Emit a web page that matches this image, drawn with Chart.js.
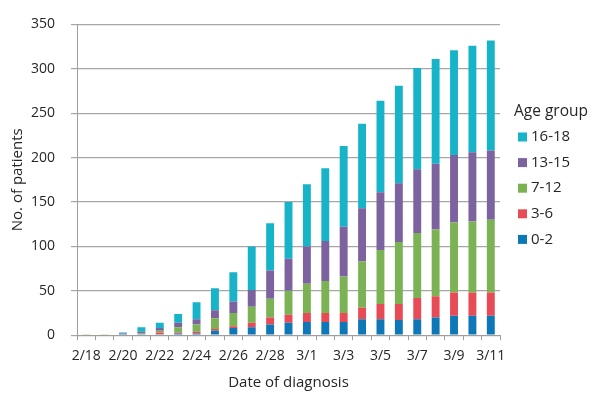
<!DOCTYPE html>
<html>
<head>
<meta charset="utf-8">
<script src="https://cdn.jsdelivr.net/npm/chart.js@4"></script>
<style>
  html, body { margin: 0; padding: 0; background: #ffffff; }
  #wrap { width: 600px; height: 399px; }
</style>
</head>
<body>
<div id="wrap"><canvas id="c" width="600" height="399"></canvas></div>
<script>
const dates = ["2/18","2/19","2/20","2/21","2/22","2/23","2/24","2/25","2/26","2/27","2/28","2/29",
               "3/1","3/2","3/3","3/4","3/5","3/6","3/7","3/8","3/9","3/10","3/11"];
const ageGroups = ["0-2","3-6","7-12","13-15","16-18"];
const age0_2   = [0,0,1,1,1,2,2,5,8,9,12,14,15,15,15,18,18,17,18,20,22,22,22];
const age3_6   = [0,0,0,0,2,1,2,2,2,5,8,9,10,10,10,13,17,18,24,24,26,26,26];
const age7_12  = [1,1,0,1,2,6,8,12,15,18,21,27,33,36,41,52,61,70,73,75,79,80,82];
const age13_15 = [0,0,1,2,3,5,6,9,13,19,32,36,42,45,56,60,65,66,72,74,76,78,78];
const age16_18 = [0,0,1,5,6,10,19,25,33,49,53,64,70,82,91,95,103,110,114,118,118,120,124];
const yTicks = [0,50,100,150,200,250,300,350];
const colors = ["#0d77b7","#e84b55","#7bb354","#7d62a0","#17b4c9"];
const legendTitle = "Age group";

const seriesValues = [age0_2, age3_6, age7_12, age13_15, age16_18];
const datasets = ageGroups.map((g, i) => ({
  label: g,
  data: seriesValues[i],
  backgroundColor: colors[i],
  borderWidth: 0,
  barPercentage: 0.43,
  categoryPercentage: 1.0
}));

const FONT = "'Open Sans', 'DejaVu Sans', sans-serif";
const TEXT = "#262626";
Chart.defaults.font.family = FONT;
Chart.defaults.color = TEXT;

// Legend drawn at the right of the plot, top entry = last dataset (as in the reference)
const sideLegend = {
  id: "sideLegend",
  afterDraw(chart) {
    const ctx = chart.ctx;
    const area = chart.chartArea;
    const x0 = area.right + 14;
    ctx.save();
    ctx.fillStyle = TEXT;
    ctx.textBaseline = "middle";
    ctx.textAlign = "left";
    ctx.font = "15.5px " + FONT;
    ctx.fillText(legendTitle, x0, 111.5);
    ctx.font = "15px " + FONT;
    const ds = chart.data.datasets;
    for (let k = 0; k < ds.length; k++) {
      const d = ds[ds.length - 1 - k];
      const yc = 137 + k * 25.6;
      ctx.fillStyle = d.backgroundColor;
      ctx.fillRect(x0 + 4, yc - 4.5, 9, 9);
      ctx.fillStyle = TEXT;
      ctx.fillText(d.label, x0 + 17, yc);
    }
    ctx.restore();
  }
};

new Chart(document.getElementById("c"), {
  type: "bar",
  data: { labels: dates, datasets },
  plugins: [sideLegend],
  options: {
    responsive: false,
    animation: false,
    devicePixelRatio: 1,
    layout: { padding: { left: 9, right: 100, top: 5, bottom: 7 } },
    plugins: {
      tooltip: { enabled: false },
      legend: { display: false }
    },
    scales: {
      x: {
        stacked: true,
        border: { display: true, color: "#9e9e9e", width: 1 },
        grid: { display: true, drawOnChartArea: false, drawTicks: true, tickLength: 5, color: "#9e9e9e", offset: true },
        ticks: {
          autoSkip: false, maxRotation: 0, minRotation: 0, padding: 7,
          font: { size: 14, family: FONT }, color: TEXT,
          callback: function(v, i) { return i % 2 === 0 ? dates[i] : ""; }
        },
        title: { display: true, text: "Date of diagnosis", font: { size: 15, family: FONT }, color: TEXT, padding: { top: 3, bottom: 0 } }
      },
      y: {
        stacked: true,
        min: yTicks[0], max: yTicks[yTicks.length - 1],
        afterBuildTicks: function(axis) { axis.ticks = yTicks.map(v => ({ value: v })); },
        border: { display: true, color: "#9e9e9e", width: 1 },
        grid: { color: "#a6a6a6", lineWidth: 1.2, tickLength: 6, drawTicks: true },
        ticks: { padding: 16, font: { size: 14, family: FONT }, color: TEXT },
        title: { display: true, text: "No. of patients", font: { size: 15, family: FONT }, color: TEXT, padding: { top: 0, bottom: -12 } }
      }
    }
  }
});
</script>
</body>
</html>
